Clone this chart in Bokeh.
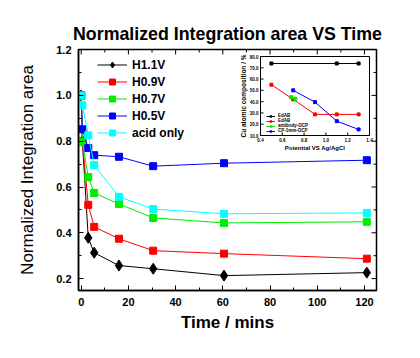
import math
from bokeh.plotting import figure
from bokeh.models import (Range1d, LinearAxis, FixedTicker, Legend, LegendItem,
                          PrintfTickFormatter)
from bokeh.core.properties import value
from bokeh.embed import file_html
from bokeh.resources import INLINE

# ---------------- data ----------------
time_min = [0, 0.5, 3, 5.5, 16, 30.5, 60.5, 121]
h11 = [1.0, 0.80, 0.378, 0.313, 0.257, 0.243, 0.213, 0.226]
h09 = [1.0, 0.80, 0.522, 0.426, 0.374, 0.322, 0.309, 0.287]
h07 = [1.0, 0.796, 0.643, 0.574, 0.526, 0.465, 0.443, 0.448]
h05 = [1.0, 0.852, 0.770, 0.739, 0.732, 0.691, 0.704, 0.717]
acid = [1.0, 0.957, 0.826, 0.696, 0.557, 0.504, 0.483, 0.487]
series_names = ["H1.1V", "H0.9V", "H0.7V", "H0.5V", "acid only"]
x_major = [0, 20, 40, 60, 80, 100, 120]
y_major = [0.2, 0.4, 0.6, 0.8, 1.0, 1.2]

# inset data
inset_xticks = [0.4, 0.6, 0.8, 1.0, 1.2, 1.4]
inset_yticks = [10, 20, 30, 40, 50, 60, 70, 80]
ins_black_x = [0.5, 1.1, 1.3]
ins_black_y = [73.8, 73.8, 73.8]
ins_red_x = [0.5, 0.7, 0.9, 1.1, 1.3]
ins_red_y = [55.0, 42.0, 28.7, 28.7, 28.7]
ins_green_x = [0.68, 0.72]
ins_green_y = [44.0, 42.5]
ins_blue_x = [0.7, 0.9, 1.1, 1.3]
ins_blue_y = [50.0, 39.6, 22.7, 15.4]
inset_names = ["EdAB", "EdAB", "antibody-OCP", "CP-1mm-OCP"]

FONT = "Liberation Sans"

# ---------------- layout constants (px) ----------------
W, H = 420, 358
FL, FR, FT, FB = 78, 376, 49, 290          # main frame
IL, IR, IT, IB = 260, 369, 56, 135         # inset frame

x0, x1 = -1.14, 125.1
y0, y1 = 0.148, 1.2005

p = figure(width=W, height=H, x_range=Range1d(x0, x1), y_range=Range1d(y0, y1),
           output_backend="svg", toolbar_location=None,
           min_border_left=FL, min_border_right=W - FR,
           min_border_top=FT, min_border_bottom=H - FB,
           x_axis_location=None, y_axis_location=None)
p.xgrid.visible = False
p.ygrid.visible = False
p.outline_line_color = "black"
p.outline_line_width = 1.5
p.background_fill_color = "white"
p.border_fill_color = "white"

p.title.text = "Normalized Integration area VS Time"
p.title.text_font = FONT
p.title.text_font_size = "17.8px"
p.title.text_font_style = "bold"
p.title.text_color = "black"
p.title.align = "center"
p.title.standoff = 11


def minors(ticks):
    return [(a + b) / 2 for a, b in zip(ticks[:-1], ticks[1:])]


def style_axis(ax):
    ax.axis_line_color = "black"
    ax.axis_line_width = 1.5
    ax.major_tick_in = 5
    ax.major_tick_out = 0
    ax.minor_tick_in = 3
    ax.minor_tick_out = 0
    ax.major_tick_line_color = "black"
    ax.minor_tick_line_color = "black"
    ax.major_label_text_font = FONT
    ax.major_label_text_font_style = "bold"
    ax.major_label_text_color = "black"
    ax.major_label_text_font_size = "11px"
    ax.axis_label_text_font = FONT
    ax.axis_label_text_color = "black"
    ax.axis_label_text_font_size = "17px"


xb = LinearAxis(ticker=FixedTicker(ticks=x_major, minor_ticks=minors(x_major)),
                axis_label="Time / mins")
style_axis(xb)
xb.major_label_standoff = 7
xb.axis_label_text_font_style = "bold"
xb.axis_label_standoff = 4
p.add_layout(xb, "below")

yl = LinearAxis(ticker=FixedTicker(ticks=y_major, minor_ticks=minors(y_major)),
                axis_label="Normalized Integration area",
                formatter=PrintfTickFormatter(format="%.1f"))
style_axis(yl)
yl.major_label_standoff = 7
yl.axis_label_text_font_style = "normal"
yl.axis_label_standoff = 16
p.add_layout(yl, "left")

# mirrored ticks on top and right edges (inward)
p.ray(x=x_major, y=[y1] * len(x_major), length=5, length_units="screen",
      angle=-math.pi / 2, line_color="black", line_width=1)
p.ray(x=minors(x_major), y=[y1] * (len(x_major) - 1), length=3, length_units="screen",
      angle=-math.pi / 2, line_color="black", line_width=1)
p.ray(x=[x1] * len(y_major), y=y_major, length=5, length_units="screen",
      angle=math.pi, line_color="black", line_width=1)
p.ray(x=[x1] * (len(y_major) - 1), y=minors(y_major), length=3, length_units="screen",
      angle=math.pi, line_color="black", line_width=1)

# ---------------- main series ----------------
colors = ["black", "#FF0000", "#00EE00", "#0000FF", "#00FFFF"]
values = [h11, h09, h07, h05, acid]
markers = ["diamond", "square", "square", "square", "square"]
sizes = [11, 7, 7, 7, 7]
items = []
for name, vals, c, m, s in zip(series_names, values, colors, markers, sizes):
    ln = p.line(time_min, vals, line_color=c, line_width=1)
    sc = p.scatter(time_min, vals, marker=m, size=s, fill_color=c, line_color=c)
    items.append(LegendItem(label=name, renderers=[ln, sc]))

leg = Legend(items=items, location=(19, 150))
leg.glyph_width = 30
leg.glyph_height = 15
leg.label_height = 15
leg.spacing = 2
leg.padding = 0
leg.margin = 0
leg.label_standoff = 5
leg.border_line_color = None
leg.background_fill_alpha = 0
leg.label_text_font = FONT
leg.label_text_font_size = "12px"
leg.label_text_font_style = "bold"
leg.label_text_color = "black"
p.add_layout(leg)

# ---------------- inset (own scales mapped onto inset box) ----------------
ixa, ixb = min(inset_xticks), max(inset_xticks)
iya, iyb = min(inset_yticks), max(inset_yticks)
sx = (ixb - ixa) / (IR - IL)
sy = (iyb - iya) / (IB - IT)
p.extra_x_ranges = {"ix": Range1d(ixa - (IL - FL) * sx, ixb + (FR - IR) * sx)}
p.extra_y_ranges = {"iy": Range1d(iya - (FB - IB) * sy, iyb + (IT - FT) * sy)}
kw = dict(x_range_name="ix", y_range_name="iy")

p.quad(left=[ixa], right=[ixb], bottom=[iya], top=[iyb], fill_color="white",
       line_color="black", line_width=1, **kw)

p.ray(x=inset_xticks, y=[iya] * len(inset_xticks), length=3, length_units="screen",
      angle=math.pi / 2, line_color="black", line_width=1, **kw)
p.ray(x=[ixa] * len(inset_yticks), y=inset_yticks, length=3, length_units="screen",
      angle=0, line_color="black", line_width=1, **kw)
p.text(x=[ixa] * len(inset_yticks), y=inset_yticks,
       text=[f"{v:.1f}" for v in inset_yticks], x_offset=-2,
       text_align="right", text_baseline="middle", text_font=value(FONT),
       text_font_size="4.5px", text_font_style="bold", **kw)
p.text(x=inset_xticks, y=[iya] * len(inset_xticks),
       text=[f"{v:.1f}" for v in inset_xticks], y_offset=2,
       text_align="center", text_baseline="top", text_font=value(FONT),
       text_font_size="4.5px", text_font_style="bold", **kw)
p.text(x=[ixa], y=[(iya + iyb) / 2], text=["Cu atomic composition / %"],
       x_offset=-17, angle=math.pi / 2, text_align="center", text_baseline="middle",
       text_font=value(FONT), text_font_size="6.5px", text_font_style="bold", **kw)
p.text(x=[(ixa + ixb) / 2], y=[iya], text=["Potential VS Ag/AgCl"],
       y_offset=9, text_align="center", text_baseline="top",
       text_font=value(FONT), text_font_size="6px", text_font_style="bold", **kw)

inset_items = []
for nm, xs, ys, c in zip(inset_names,
                         [ins_black_x, ins_red_x, ins_green_x, ins_blue_x],
                         [ins_black_y, ins_red_y, ins_green_y, ins_blue_y],
                         ["black", "#FF0000", "#00EE00", "#0000FF"]):
    ln = p.line(xs, ys, line_color=c, line_width=1, **kw)
    sc = p.scatter(xs, ys, marker="square", size=3, fill_color=c, line_color=c, **kw)
    inset_items.append(LegendItem(label=nm, renderers=[ln, sc]))

leg2 = Legend(items=inset_items, location=(188, 157))
leg2.glyph_width = 9
leg2.glyph_height = 4
leg2.label_height = 4
leg2.spacing = 0
leg2.padding = 0
leg2.margin = 0
leg2.label_standoff = 3
leg2.border_line_color = None
leg2.background_fill_alpha = 0
leg2.label_text_font = FONT
leg2.label_text_font_size = "4.5px"
leg2.label_text_font_style = "bold"
leg2.label_text_color = "black"
p.add_layout(leg2)

open("out.html", "w").write(file_html(p, INLINE))
